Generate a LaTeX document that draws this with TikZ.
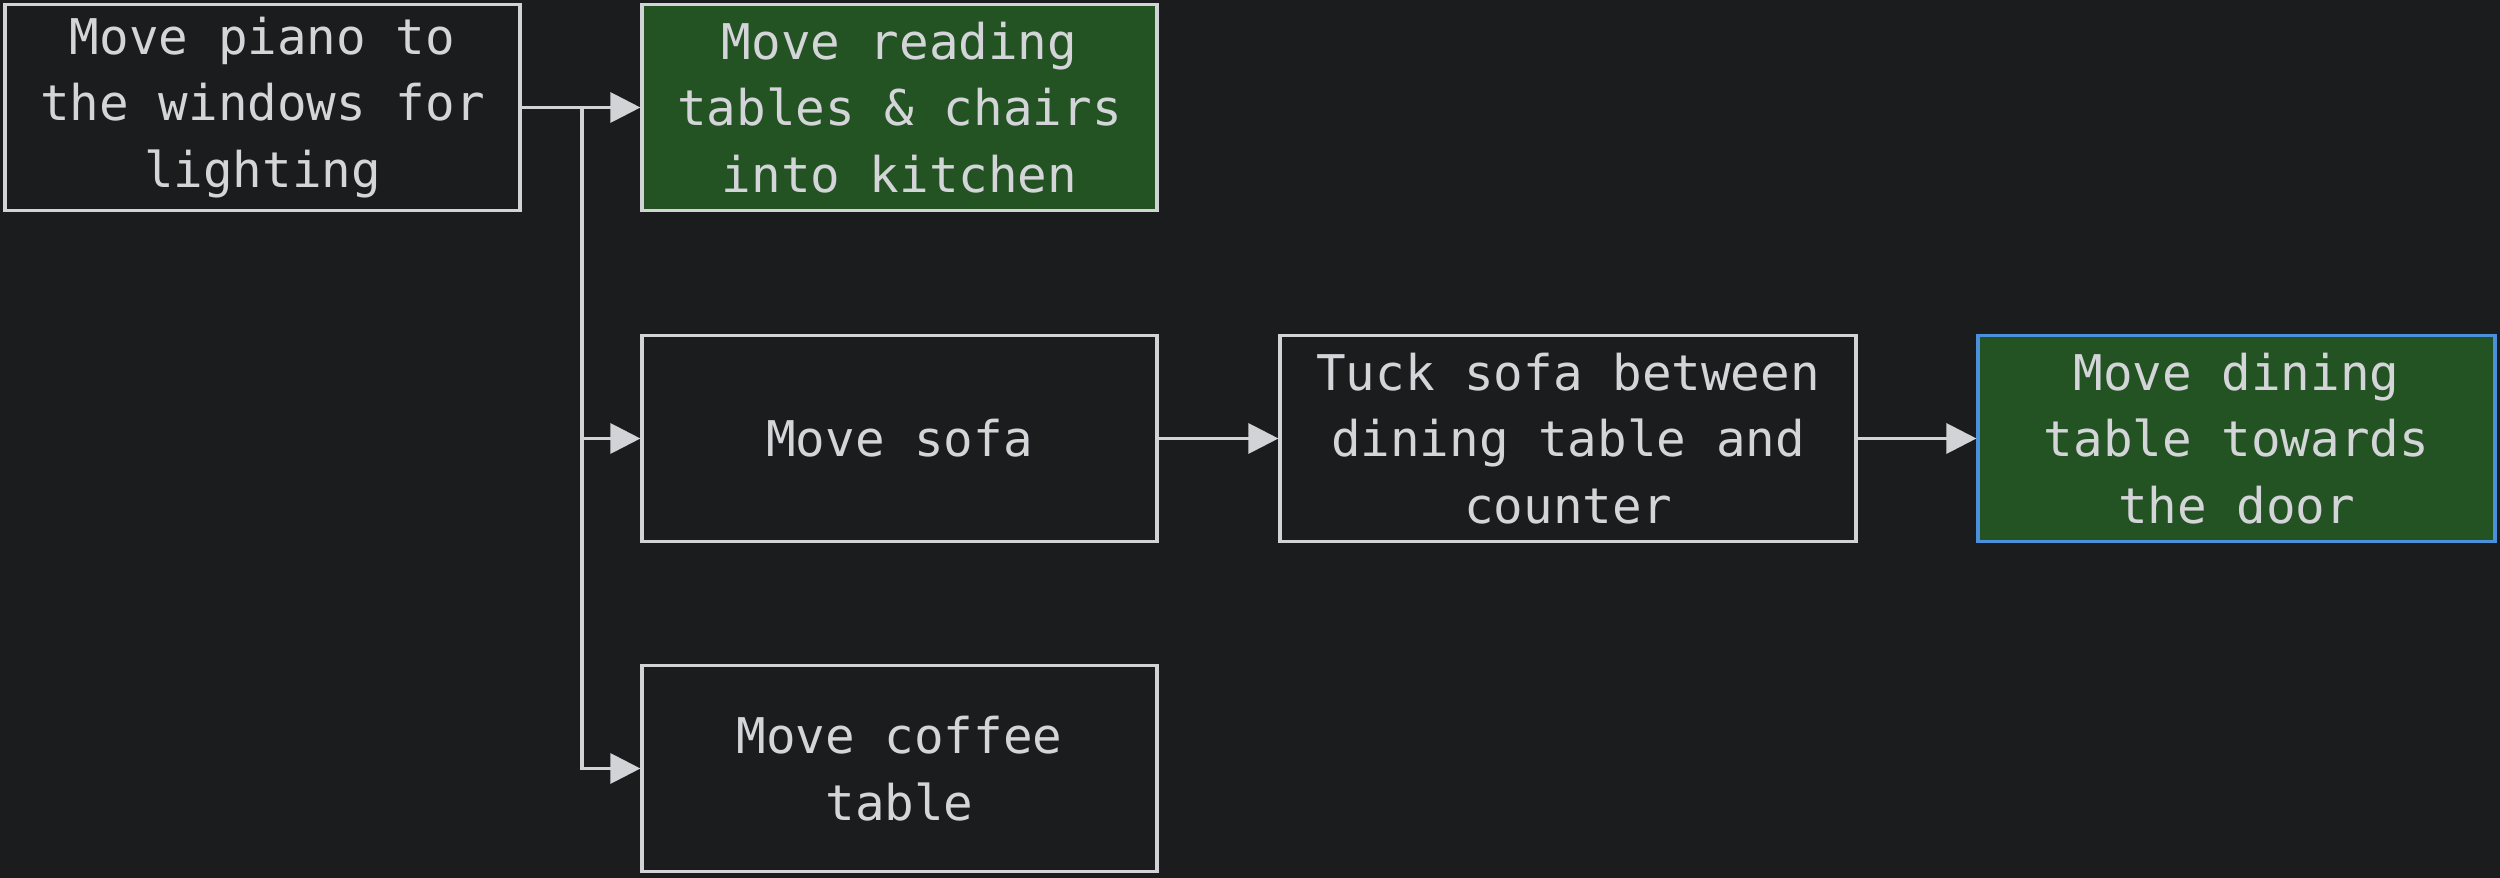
\documentclass[tikz,border=0pt]{standalone}
\usepackage{fontspec}
\setmonofont{DejaVu Sans Mono}
\usetikzlibrary{arrows.meta}
\definecolor{bgdark}{HTML}{1B1C1E}
\definecolor{boxgreen}{HTML}{235323}
\definecolor{edgegray}{HTML}{D2D3D7}
\definecolor{txtgray}{HTML}{D4D5D9}
\definecolor{focusblue}{HTML}{4A90DA}
\tikzset{
	task/.style={draw=edgegray, line width=0.9pt, fill=bgdark, text=txtgray,
		align=center, inner sep=0pt, minimum height=2.06cm,
		font=\ttfamily\fontsize{14}{19}\selectfont},
	done/.style={task, fill=boxgreen},
	link/.style={draw=edgegray, line width=0.9pt,
		-{Triangle[length=3mm, width=3mm]}}
}
\begin{document}
\begin{tikzpicture}
		\fill[bgdark] (0,0) rectangle (25,-8.78);
		\useasboundingbox (0,0) rectangle (25,-8.78);
		
		\node[task, minimum width=5.15cm] (piano) at (2.625,-1.075) {Move piano to\\the windows for\\lighting};
		\node[done, minimum width=5.15cm] (reading) at (8.995,-1.075) {Move reading\\tables \& chairs\\into kitchen};
		\node[task, minimum width=5.15cm] (sofa) at (8.995,-4.385) {Move sofa};
		\node[task, minimum width=5.15cm] (coffee) at (8.995,-7.685) {Move coffee\\table};
		\node[task, minimum width=5.76cm] (tuck) at (15.68,-4.385) {Tuck sofa between\\dining table and\\counter};
		\node[done, draw=focusblue, minimum width=5.17cm] (dining) at (22.365,-4.385) {Move dining\\table towards\\the door};
		
		\coordinate (split) at (5.82,-1.075);
		\draw[link] (piano) -- (reading);
		\draw[link] (split) |- (sofa.west);
		\draw[link] (split) |- (coffee.west);
		\draw[link] (sofa) -- (tuck);
		\draw[link] (tuck) -- (dining);
\end{tikzpicture}
\end{document}
